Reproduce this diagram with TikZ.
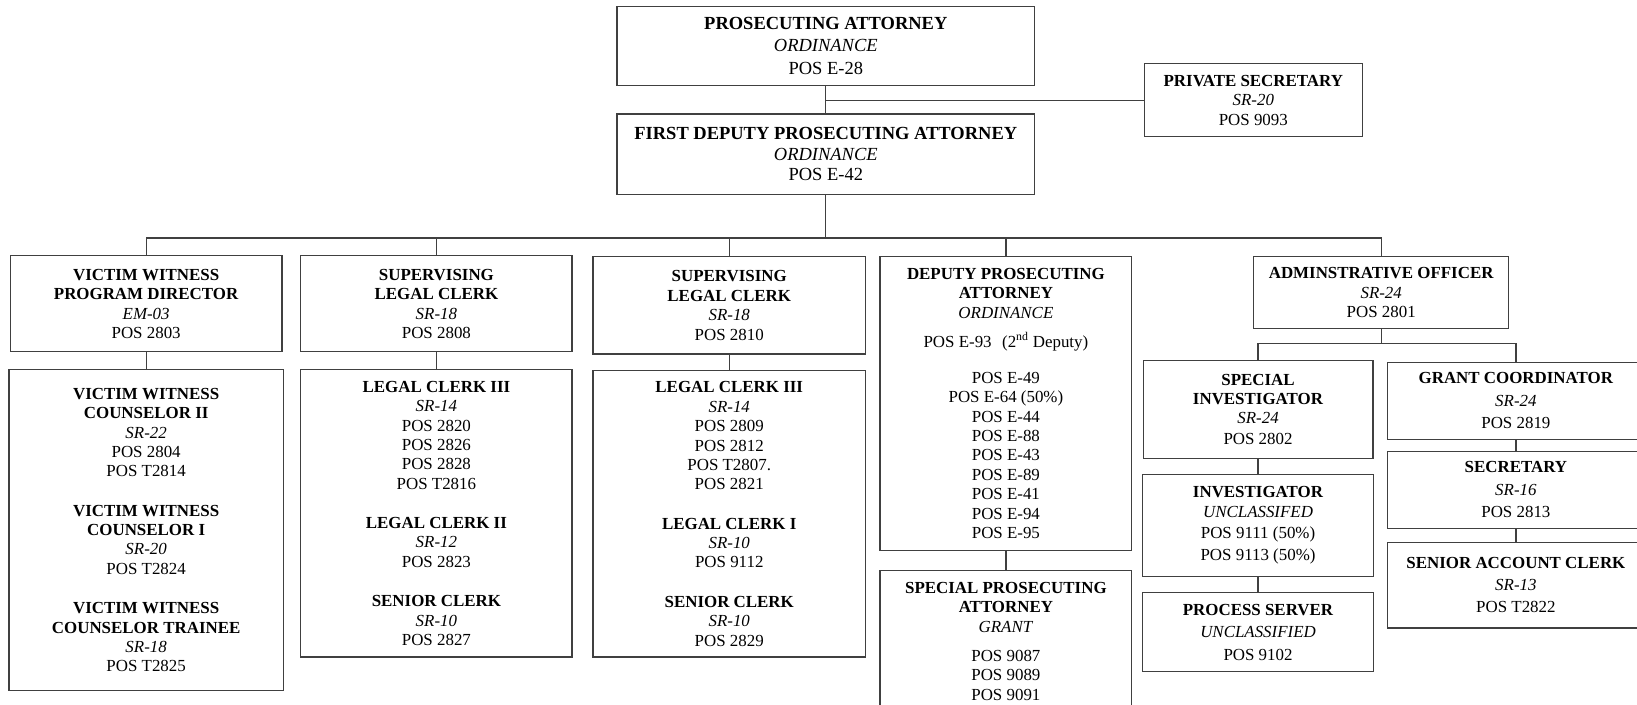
\documentclass[tikz,border=0pt]{standalone}
\usepackage{fontspec}
\setmainfont{Liberation Serif}
\usetikzlibrary{positioning}

\begin{document}
\begin{tikzpicture}[x=1pt, y=-1pt, line width=1.2pt,
office/.style = {draw=black!75, rectangle, align=center, inner sep=0pt, font=\fontsize{16.2}{18.6}\selectfont},
head/.style = {office, font=\fontsize{17.7}{18.6}\selectfont}]

    \useasboundingbox (0,0) rectangle (1568,675);

    \node[head, minimum width=400pt, minimum height=76pt] (1) at (791,44) {\textbf{PROSECUTING ATTORNEY}\\[3pt]\textit{ORDINANCE}\\[3pt]POS E-28};
    \node[head, minimum width=400pt, minimum height=77pt, below=26pt of 1] (2) {\textbf{FIRST DEPUTY PROSECUTING ATTORNEY}\\[1pt]\textit{ORDINANCE}\\[1pt]POS E-42};
    \node[office, minimum width=209pt, minimum height=70pt] (3) at (1200.5,96) {\textbf{PRIVATE SECRETARY}\\\textit{SR-20}\\POS 9093};

    \node[office, minimum width=260pt, minimum height=92pt] (4) at (140,291) {\textbf{VICTIM WITNESS}\\\textbf{PROGRAM DIRECTOR}\\\textit{EM-03}\\POS 2803};
    \node[office, minimum width=260pt, minimum height=92pt] (5) at (418,291) {\textbf{SUPERVISING}\\\textbf{LEGAL CLERK}\\\textit{SR-18}\\POS 2808};
    \node[office, minimum width=261pt, minimum height=93pt] (6) at (698.5,292.5) {\textbf{SUPERVISING}\\\textbf{LEGAL CLERK}\\\textit{SR-18}\\POS 2810};
    \node[office, minimum width=241pt, minimum height=281pt] (7) at (963.5,386.5) {\textbf{DEPUTY PROSECUTING}\\\textbf{ATTORNEY}\\\textit{ORDINANCE}\\[9pt]POS E-93\hspace{10pt}(2\textsuperscript{nd} Deputy)\\[16pt]POS E-49\\POS E-64 (50\%)\\POS E-44\\POS E-88\\POS E-43\\POS E-89\\POS E-41\\POS E-94\\POS E-95};
    \node[office, minimum width=244pt, minimum height=69pt] (8) at (1323,280.5) {\textbf{ADMINSTRATIVE OFFICER}\\\textit{SR-24}\\POS 2801};

    \node[office, minimum width=263pt, minimum height=307pt, below=16pt of 4] (9) {\textbf{VICTIM WITNESS}\\\textbf{COUNSELOR II}\\\textit{SR-22}\\POS 2804\\POS T2814\\[19pt]\textbf{VICTIM WITNESS}\\\textbf{COUNSELOR I}\\\textit{SR-20}\\POS T2824\\[19pt]\textbf{VICTIM WITNESS}\\\textbf{COUNSELOR TRAINEE}\\\textit{SR-18}\\POS T2825};
    \node[office, minimum width=260pt, minimum height=275pt, below=16pt of 5] (10) {\textbf{LEGAL CLERK III}\\\textit{SR-14}\\POS 2820\\POS 2826\\POS 2828\\POS T2816\\[19pt]\textbf{LEGAL CLERK II}\\\textit{SR-12}\\POS 2823\\[19pt]\textbf{SENIOR CLERK}\\\textit{SR-10}\\POS 2827};
    \node[office, minimum width=261pt, minimum height=274pt, below=15pt of 6] (11) {\textbf{LEGAL CLERK III}\\\textit{SR-14}\\POS 2809\\POS 2812\\POS T2807.\\POS 2821\\[19pt]\textbf{LEGAL CLERK I}\\\textit{SR-10}\\POS 9112\\[19pt]\textbf{SENIOR CLERK}\\\textit{SR-10}\\POS 2829};
    \node[office, minimum width=241pt, minimum height=136pt, below=18pt of 7] (12) {\textbf{SPECIAL PROSECUTING}\\\textbf{ATTORNEY}\\\textit{GRANT}\\[9pt]POS 9087\\POS 9089\\POS 9091};

    \node[office, minimum width=220pt, minimum height=94pt] (13) at (1205,392) {\textbf{SPECIAL}\\\textbf{INVESTIGATOR}\\\textit{SR-24}\\[1pt]POS 2802};
    \node[office, minimum width=221pt, minimum height=98pt, below=14pt of 13] (14) {\textbf{INVESTIGATOR}\\\textit{UNCLASSIFED}\\[2pt]POS 9111 (50\%)\\[2pt]POS 9113 (50\%)};
    \node[office, minimum width=221pt, minimum height=76pt, below=14pt of 14] (15) {\textbf{PROCESS SERVER}\\[3pt]\textit{UNCLASSIFIED}\\[3pt]POS 9102};

    \node[office, minimum width=246pt, minimum height=74pt] (16) at (1452,384) {\textbf{GRANT COORDINATOR}\\[3pt]\textit{SR-24}\\[3pt]POS 2819};
    \node[office, minimum width=246pt, minimum height=74pt, below=10pt of 16] (17) {\textbf{SECRETARY}\\[3pt]\textit{SR-16}\\[3pt]POS 2813};
    \node[office, minimum width=246pt, minimum height=82pt, below=12pt of 17] (18) {\textbf{SENIOR ACCOUNT CLERK}\\[2pt]\textit{SR-13}\\[3pt]POS T2822};

    \coordinate (bus) at (791,228);
    \coordinate (bus2) at (1325,329);

    \draw [black!75] (1) -- (2);
    \draw [black!75] (3.west) -- (3.west -| 1.south);

    \draw [black!75] (2.south) -- (2.south |- bus);
    \draw [black!75] (4.north) |- (8.north |- bus) -- (8.north);
    \draw [black!75] (5.north) -- (5.north |- bus);
    \draw [black!75] (6.north) -- (6.north |- bus);
    \draw [black!75] (7.north) -- (7.north |- bus);

    \draw [black!75] (4.south) -- (4.south |- 9.north);
    \draw [black!75] (5.south) -- (5.south |- 10.north);
    \draw [black!75] (6.south) -- (6.south |- 11.north);
    \draw [black!75] (7.south) -- (7.south |- 12.north);

    \draw [black!75] (8.south) -- (8.south |- bus2);
    \draw [black!75] (13.north) |- (16.north |- bus2) -- (16.north);
    \draw [black!75] (13) -- (14);
    \draw [black!75] (14) -- (15);
    \draw [black!75] (16) -- (17);
    \draw [black!75] (17) -- (18);

\end{tikzpicture}
\end{document}
